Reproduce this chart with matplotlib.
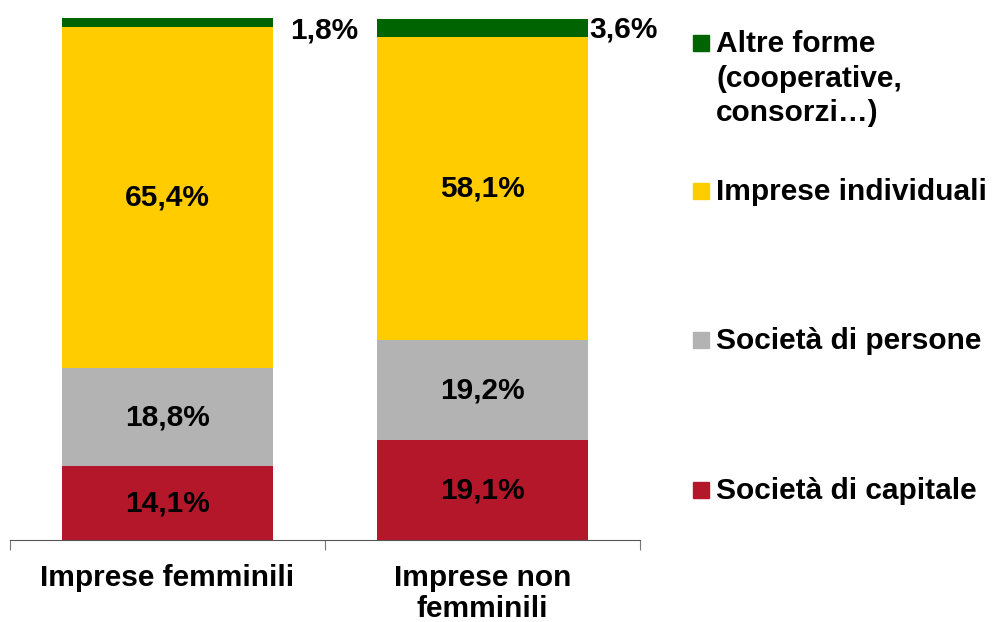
import numpy as np
import matplotlib.pyplot as plt
from matplotlib.patches import Rectangle

plt.rcParams['font.family'] = ['Liberation Sans', 'DejaVu Sans']
plt.rcParams['font.weight'] = 'bold'

# Dati
categorie = ['Imprese femminili', 'Imprese non\nfemminili']
serie = ['Società di capitale', 'Società di persone', 'Imprese individuali',
         'Altre forme\n(cooperative,\nconsorzi…)']
capitale = [14.1, 19.1]
persone = [18.8, 19.2]
individuali = [65.4, 58.1]
altre = [1.8, 3.6]
etichette_altre = ['1,8%', '3,6%']
colori = ['#B5172A', '#B3B3B3', '#FFCC00', '#006400']

valori = [capitale, persone, individuali, altre]
FS = 21.5

fig = plt.figure(figsize=(9.94, 6.22), dpi=100)
ax = fig.add_axes([10 / 994, 82 / 622, 630 / 994, 522 / 622])

x = np.arange(len(categorie))
larghezza = 0.67
base = np.zeros(len(categorie))
for k, (v, c) in enumerate(zip(valori, colori)):
    v = np.array(v)
    ax.bar(x, v, larghezza, bottom=base, color=c, edgecolor='none')
    if k < 3:
        for i in range(len(x)):
            ax.text(x[i], base[i] + v[i] / 2, f'{v[i]:.1f}%'.replace('.', ','),
                    ha='center', va='center', fontsize=FS, fontweight='bold')
    else:
        sposta = [0.055, 0.005]
        for i in range(len(x)):
            ax.text(x[i] + larghezza / 2 + sposta[i], base[i] + v[i] / 2 - 1.5 + i * 1.2,
                    etichette_altre[i], ha='left', va='center',
                    fontsize=FS, fontweight='bold')
    base = base + v

ax.set_xlim(-0.5, 1.5)
ax.set_ylim(0, 100.1)
for s in ['left', 'right', 'top']:
    ax.spines[s].set_visible(False)
ax.spines['bottom'].set_color('#555555')
ax.set_yticks([])
ax.set_xticks([-0.5, 0.5, 1.5])
ax.set_xticklabels([])
ax.tick_params(axis='x', which='major', length=7, color='#777777', direction='out')
ax.set_xticks(x, minor=True)
ax.set_xticklabels(categorie, minor=True, fontsize=FS, fontweight='bold',
                   linespacing=1.15)
ax.tick_params(axis='x', which='minor', length=0, pad=17)
for t in ax.get_xticklabels(minor=True):
    t.set_verticalalignment('top')

# Legenda manuale (centri dei quadratini, px dall'alto)
centri = [43, 191, 340, 490]
ordine = [3, 2, 1, 0]
for j, k in enumerate(ordine):
    yc = (622 - centri[j]) / 622
    fig.patches.append(Rectangle((693 / 994, yc - 8 / 622), 16 / 994, 16 / 622,
                                 transform=fig.transFigure, color=colori[k]))
    fig.text(716 / 994, yc + 13 / 622, serie[k], ha='left', va='top',
             fontsize=FS, fontweight='bold', linespacing=1.3)

fig.savefig('out.png', dpi=100)
